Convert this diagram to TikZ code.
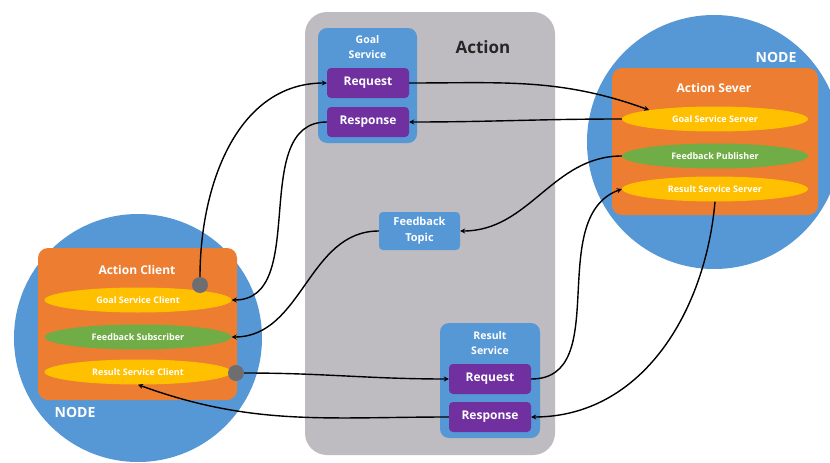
\documentclass[tikz,border=0pt]{standalone}
\usepackage{fontspec}
\setmainfont{Open Sans}
\usepackage{tikz}
\usetikzlibrary{shapes.geometric,arrows.meta}

\definecolor{nodeblue}{RGB}{86,152,214}
\definecolor{actiongrey}{RGB}{190,188,192}
\definecolor{msgpurple}{RGB}{112,48,160}
\definecolor{partorange}{RGB}{237,125,49}
\definecolor{partyellow}{RGB}{255,192,0}
\definecolor{partgreen}{RGB}{112,173,71}
\definecolor{portgrey}{RGB}{110,110,114}

\tikzstyle{node circle}  = [circle, fill=nodeblue, inner sep=0]
\tikzstyle{action box}   = [rectangle, rounded corners=22pt, fill=actiongrey, inner sep=0]
\tikzstyle{service box}  = [rectangle, rounded corners=9pt, fill=nodeblue, inner sep=0]
\tikzstyle{msg box}      = [rectangle, rounded corners=4pt, fill=msgpurple, text=white,
                            font=\fontsize{12}{14}\selectfont\bfseries,
                            minimum width=82pt, minimum height=30pt]
\tikzstyle{part box}     = [rectangle, rounded corners=10pt, fill=partorange, inner sep=0]
\tikzstyle{part ellipse} = [ellipse, inner sep=0, text=white,
                            font=\fontsize{9}{10}\selectfont\bfseries,
                            minimum width=186pt, minimum height=25pt]
\tikzstyle{port dot}     = [circle, fill=portgrey, minimum size=16pt, inner sep=0]
\tikzstyle{white label}  = [text=white, align=center, inner sep=0]
\tikzstyle{conn}         = [-{Stealth[length=5pt,width=5pt]}, line width=1.4pt]

\begin{document}
\begin{tikzpicture}[font=\bfseries,
                    x=1pt, y=1pt
                    ]
    \useasboundingbox[fill=white] (0,0) rectangle (830,-463);

    % Action in the middle
    \node(action)[action box, minimum width=250pt, minimum height=443pt] at (430,-233.5){};
    \node(actionT)[text=black!85, font=\fontsize{17}{20}\selectfont\bfseries] at (483,-47){Action};

    % Goal service
    \node(goal)[service box, minimum width=99pt, minimum height=115pt] at (367.5,-85.5){};
    \node(goalT)[white label, font=\fontsize{10.5}{15}\selectfont\bfseries] at (367.5,-47){Goal\\Service};
    \node(gReq)[msg box] at (368,-83){Request};
    \node(gRes)[msg box] at (368,-122){Response};

    % Feedback topic
    \node(fbTopic)[service box, rounded corners=4pt, minimum width=81pt, minimum height=38pt,
                   white label, font=\fontsize{11}{16}\selectfont\bfseries] at (419.5,-231){Feedback\\Topic};

    % Result service
    \node(result)[service box, minimum width=100pt, minimum height=115pt] at (490,-380.5){};
    \node(resultT)[white label, font=\fontsize{10.5}{15}\selectfont\bfseries] at (490,-343){Result\\Service};
    \node(rReq)[msg box] at (490,-379){Request};
    \node(rRes)[msg box] at (490,-417){Response};

    % Server node, right
    \node(sNode)[node circle, minimum size=254pt] at (714,-142){};
    \node(sNodeT)[white label, font=\fontsize{14}{16}\selectfont\bfseries] at (776,-57){NODE};
    \node(server)[part box, minimum width=206pt, minimum height=147pt] at (715,-141.5){};
    \node(serverT)[white label, font=\fontsize{12}{14}\selectfont\bfseries] at (714,-88){Action Sever};
    \node(gss)[part ellipse, fill=partyellow] at (715,-119){Goal Service Server};
    \node(fbp)[part ellipse, fill=partgreen]  at (715,-156){Feedback Publisher};
    \node(rss)[part ellipse, fill=partyellow] at (715,-189){Result Service Server};

    % Client node, left
    \node(cNode)[node circle, minimum size=248pt] at (138,-338){};
    \node(cNodeT)[white label, font=\fontsize{14}{16}\selectfont\bfseries] at (75,-412){NODE};
    \node(client)[part box, minimum width=199pt, minimum height=152pt] at (137.5,-324){};
    \node(clientT)[white label, font=\fontsize{12}{14}\selectfont\bfseries] at (137,-270){Action Client};
    \node(gsc)[part ellipse, fill=partyellow, minimum width=187pt] at (138,-300){Goal Service Client};
    \node(fbs)[part ellipse, fill=partgreen, minimum width=187pt]  at (138,-337){Feedback Subscriber};
    \node(rsc)[part ellipse, fill=partyellow, minimum width=187pt] at (138,-372){Result Service Client};
    \node(gDot)[port dot] at (200,-285){};
    \node(rDot)[port dot] at (236,-373){};

    % Goal
    \draw[conn] (gDot.north) to[out=90, in=180] (gReq.west);
    \draw[conn] (gReq.east) to[out=0, in=160] (gss.north west);
    \draw[conn] (gss.west) to[out=180, in=0] (gRes.east);
    \draw[conn] (gRes.west) to[out=180, in=0] (gsc.east);

    % Feedback
    \draw[conn] (fbp.west) to[out=180, in=0] (fbTopic.east);
    \draw[conn] (fbTopic.west) to[out=180, in=0] (fbs.east);

    % Result
    \draw[conn] (rDot.east) to[out=0, in=180] (rReq.west);
    \draw[conn] (rReq.east) to[out=0, in=200] (rss.west);
    \draw[conn] (rss.south) to[out=265, in=0] (rRes.east);
    \draw[conn] (rRes.west) to[out=180, in=-20] (rsc.south);

\end{tikzpicture}
\end{document}
